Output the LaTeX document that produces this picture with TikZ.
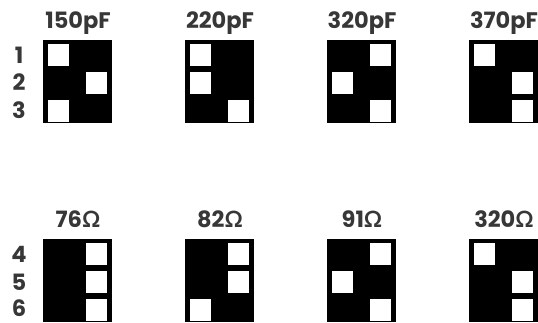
\documentclass[tikz,border=0pt]{standalone}
\usepackage{fontspec}
\setmainfont{Poppins}
\newfontfamily\omegafont{Lato}
\definecolor{labelgray}{RGB}{55,55,55}
\newcommand{\ohm}{{\omegafont\bfseries Ω}}
\begin{document}
\begin{tikzpicture}[x=1pt,y=-1pt,
  dipbox/.style={fill=black, draw=none, minimum width=69pt, minimum height=83pt,
                 anchor=north west, inner sep=0pt, outer sep=0pt},
  sw/.style={fill=white, draw=none, minimum width=21pt, minimum height=22pt,
             anchor=north west, inner sep=0pt, outer sep=0pt},
  lab/.style={text=labelgray, font=\fontsize{22.5}{26}\selectfont\bfseries,
              inner sep=0pt, anchor=base},
  numlab/.style={lab, text depth=0pt},
]
\useasboundingbox (0,0) rectangle (538,322);
% boxes: name / x / y / row1 / row2 / row3 offsets (5 = left, 43 = right)
\foreach \n/\x/\y/\a/\b/\c/\t in {
    a/43/40/5/43/5/150pF,
    b/185/40/5/5/43/220pF,
    c/327/40/43/5/43/320pF,
    d/469/40/5/43/43/370pF,
    e/43/239/43/43/43/76\ohm,
    f/185/239/43/43/5/82\ohm,
    g/327/239/43/5/43/91\ohm,
    h/469/239/5/43/43/320\ohm}{
  \node[dipbox] (box\n) at (\x,\y) {};
  \node[sw] (box\n-1) at (\x+\a,\y+4) {};
  \node[sw] (box\n-2) at (\x+\b,\y+32) {};
  \node[sw] (box\n-3) at (\x+\c,\y+60) {};
  \node[lab] (lab\n) at (\x+35,\y-12) {\t};
}
% row numbers
\foreach \k/\y in {1/63,2/90,3/118,4/262,5/290,6/316}{
  \node[numlab] (num\k) at (19,\y) {\k};
}
\end{tikzpicture}
\end{document}
